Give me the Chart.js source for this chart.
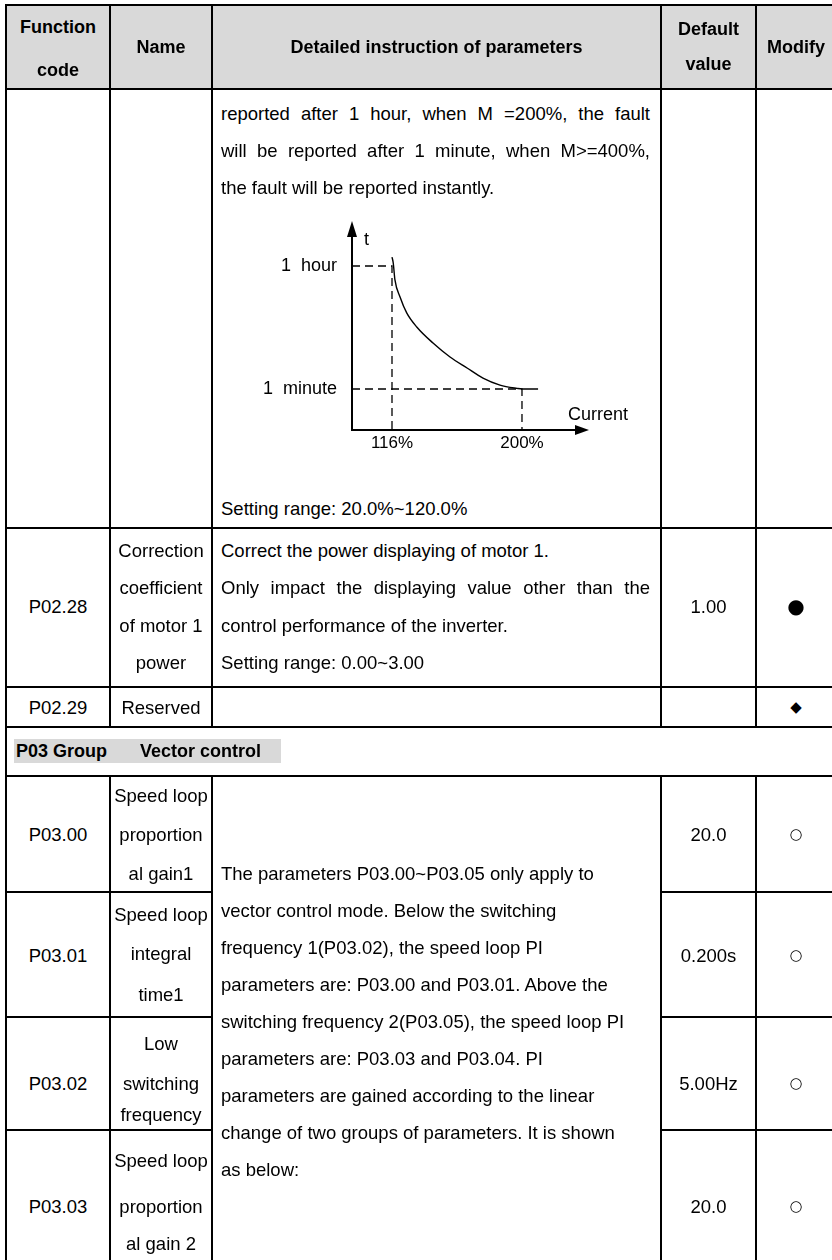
<!DOCTYPE html>
<html><head><meta charset="utf-8">
<script src="https://cdn.jsdelivr.net/npm/chart.js@4.4.1/dist/chart.umd.min.js"></script>
<style>
html,body{margin:0;padding:0;background:#fff;}
body{width:832px;height:1260px;position:relative;overflow:hidden;font-family:"Liberation Sans",Arial,sans-serif;color:#000;}
.h{position:absolute;height:2px;background:#000;}
.v{position:absolute;width:2px;background:#000;}
.t{position:absolute;height:37px;line-height:37px;white-space:nowrap;font-size:18.5px;}
.b{font-weight:bold;font-size:18px;}
.c{text-align:center;}
.j{text-align:justify;text-align-last:justify;white-space:normal;overflow:visible;}
.sym{font-family:"DejaVu Sans",sans-serif;}
</style></head><body>
<div id="chartBox" style="position:absolute;left:212px;top:200px;width:449px;height:280px;"><canvas id="c" width="449" height="280"></canvas></div>
<script>
// ---- chart data ----
const currentPct   = [116, 116.8, 117.9, 121.2, 125.5, 132.0, 142.5, 153.5, 164.5, 174.8, 185.8, 196.8, 200, 210.4];
const tripMinutes  = [80.9, 66.3, 37.7, 21.4, 12.6, 7.88, 4.62, 2.90, 2.01, 1.44, 1.14, 1.02, 1.0, 1.0];
const currentTicks = [116, 200];
const currentTickLabels = ['116%', '200%'];
const timeTicks = [1, 60];
const timeTickLabels = ['1  minute', '1  hour'];
const currentRange = [90.15, 236.2];
const timeRange = [0.2554, 162.9];

// ---- table lines ----
function hl(y,x1,x2){const d=document.createElement('div');d.className='h';d.style.cssText=`left:${x1-1}px;top:${y-1}px;width:${x2-x1+2}px`;document.body.appendChild(d);}
function vl(x,y1,y2){const d=document.createElement('div');d.className='v';d.style.cssText=`left:${x-1}px;top:${y1-1}px;height:${y2-y1+2}px`;document.body.appendChild(d);}
function bg(x,y,w,h){const d=document.createElement('div');d.style.cssText=`position:absolute;left:${x}px;top:${y}px;width:${w}px;height:${h}px;background:#d9d9d9`;document.body.appendChild(d);}
function tx(s,x,w,yc,cls,extra){const d=document.createElement('div');d.className='t '+(cls||'');d.textContent=s;d.style.cssText=`left:${x}px;top:${yc-18.5}px;`+(w?`width:${w}px;`:'')+(extra||'');document.body.appendChild(d);}

bg(6,5,830,84);
bg(14,739,267,24);
[5,89,528,687,727,776].forEach(y=>hl(y,6,840));
[892,1017,1130].forEach(y=>{hl(y,6,212);hl(y,661,840);});
vl(6,5,1262);
[110,212,661,756].forEach(x=>{vl(x,5,727);vl(x,776,1262);});

// header
tx('Function',6,104,27,'b c');tx('code',6,104,70,'b c');
tx('Name',110,102,47,'b c');
tx('Detailed instruction of parameters',212,449,47,'b c');
tx('Default',661,95,29,'b c');tx('value',661,95,64,'b c');
tx('Modify',756,80,47,'b c');

// P02.27 continuation
tx('reported after 1 hour, when M =200%, the fault',221,429,113,'j');
tx('will be reported after 1 minute, when M>=400%,',221,429,150,'j');
tx('the fault will be reported instantly.',221,0,187,'');
tx('Setting range: 20.0%~120.0%',221,0,508,'');

// P02.28
tx('P02.28',6,104,606,'c');
tx('Correction',110,102,550,'c');tx('coefficient',110,102,587,'c');tx('of motor 1',110,102,625,'c');tx('power',110,102,662,'c');
tx('Correct the power displaying of motor 1.',221,0,550,'');
tx('Only impact the displaying value other than the',221,429,587,'j');
tx('control performance of the inverter.',221,0,625,'');
tx('Setting range: 0.00~3.00',221,0,662,'');
tx('1.00',661,95,606,'c');
tx('\u25CF',756,80,606,'c sym','font-size:20px;');

// P02.29
tx('P02.29',6,104,707,'c');tx('Reserved',110,102,707,'c');
tx('\u25C6',756,80,707,'c sym','font-size:15px;');

// group
tx('P03 Group',16,0,751,'b');tx('Vector control',140,0,751,'b');

// P03 rows
tx('P03.00',6,104,834,'c');tx('Speed loop',110,102,795,'c');tx('proportion',110,102,834,'c');tx('al gain1',110,102,873,'c');
tx('20.0',661,95,834,'c');tx('\u25CB',756,80,834,'c sym','font-size:15px;');
tx('P03.01',6,104,955,'c');tx('Speed loop',110,102,914,'c');tx('integral',110,102,953,'c');tx('time1',110,102,994,'c');
tx('0.200s',661,95,955,'c');tx('\u25CB',756,80,955,'c sym','font-size:15px;');
tx('P03.02',6,104,1083,'c');tx('Low',110,102,1043,'c');tx('switching',110,102,1083,'c');tx('frequency',110,102,1114,'c');
tx('5.00Hz',661,95,1083,'c');tx('\u25CB',756,80,1083,'c sym','font-size:15px;');
tx('P03.03',6,104,1206,'c');tx('Speed loop',110,102,1160,'c');tx('proportion',110,102,1206,'c');tx('al gain 2',110,102,1243,'c');
tx('20.0',661,95,1206,'c');tx('\u25CB',756,80,1206,'c sym','font-size:15px;');
['The parameters P03.00~P03.05 only apply to','vector control mode. Below the switching','frequency 1(P03.02), the speed loop PI','parameters are: P03.00 and P03.01. Above the','switching frequency 2(P03.05), the speed loop PI','parameters are: P03.03 and P03.04. PI','parameters are gained according to the linear','change of two groups of parameters. It is shown','as below:'].forEach((s,i)=>tx(s,221,0,873+37*i,''));

// ---- chart ----
const curve = currentPct.map((x,i)=>({x:x,y:tripMinutes[i]}));
const guides = timeTicks.map((t,i)=>{
  const cx = currentTicks[timeTicks.length-1-i];
  return [{x:currentRange[0],y:t},{x:cx,y:t},{x:cx,y:timeRange[0]}];
});
const decor = {
  id:'decor',
  afterDraw(chart){
    const {ctx, chartArea:a} = chart;
    ctx.save();
    ctx.fillStyle='#000';
    ctx.beginPath();
    ctx.moveTo(a.left, a.top-15); ctx.lineTo(a.left-5, a.top+1); ctx.lineTo(a.left+5, a.top+1); ctx.closePath(); ctx.fill();
    ctx.beginPath();
    ctx.moveTo(a.right+11, a.bottom); ctx.lineTo(a.right-3, a.bottom-5); ctx.lineTo(a.right-3, a.bottom+5); ctx.closePath(); ctx.fill();
    ctx.font='18px "Liberation Sans", Arial, sans-serif';
    ctx.textBaseline='middle'; ctx.textAlign='left';
    ctx.fillText('t', a.left+12, a.top+4);
    ctx.fillText('Current', a.right-10, a.bottom-15);
    ctx.restore();
  }
};
new Chart(document.getElementById('c'), {
  type:'scatter',
  data:{datasets:[
    {data:curve, showLine:true, borderColor:'#000', borderWidth:1.4, pointRadius:0, cubicInterpolationMode:'monotone'},
    {data:guides[0], showLine:true, borderColor:'#000', borderWidth:1.3, borderDash:[8,5], pointRadius:0},
    {data:guides[1], showLine:true, borderColor:'#000', borderWidth:1.3, borderDash:[8,5], pointRadius:0}
  ]},
  options:{
    responsive:false, animation:false, devicePixelRatio:1,
    layout:{padding:{left:0,top:36,right:83,bottom:0}},
    plugins:{legend:{display:false}, tooltip:{enabled:false}},
    scales:{
      x:{type:'linear', min:currentRange[0], max:currentRange[1],
         grid:{display:false, drawTicks:false}, border:{display:true,color:'#000',width:2},
         afterBuildTicks:ax=>{ax.ticks=currentTicks.map(v=>({value:v}));},
         afterFit:ax=>{ax.height=50;},
         ticks:{autoSkip:false, maxRotation:0, padding:3, color:'#000', font:{family:'"Liberation Sans", Arial, sans-serif', size:17},
                callback:v=>currentTickLabels[currentTicks.indexOf(v)]}},
      y:{type:'logarithmic', min:timeRange[0], max:timeRange[1],
         grid:{display:false, drawTicks:false}, border:{display:true,color:'#000',width:2},
         afterBuildTicks:ax=>{ax.ticks=timeTicks.map(v=>({value:v}));},
         afterFit:ax=>{ax.width=140;},
         ticks:{autoSkip:false, padding:15, color:'#000', font:{family:'"Liberation Sans", Arial, sans-serif', size:18},
                callback:v=>timeTickLabels[timeTicks.indexOf(v)]}}
    }
  },
  plugins:[decor]
});
</script>
</body></html>
